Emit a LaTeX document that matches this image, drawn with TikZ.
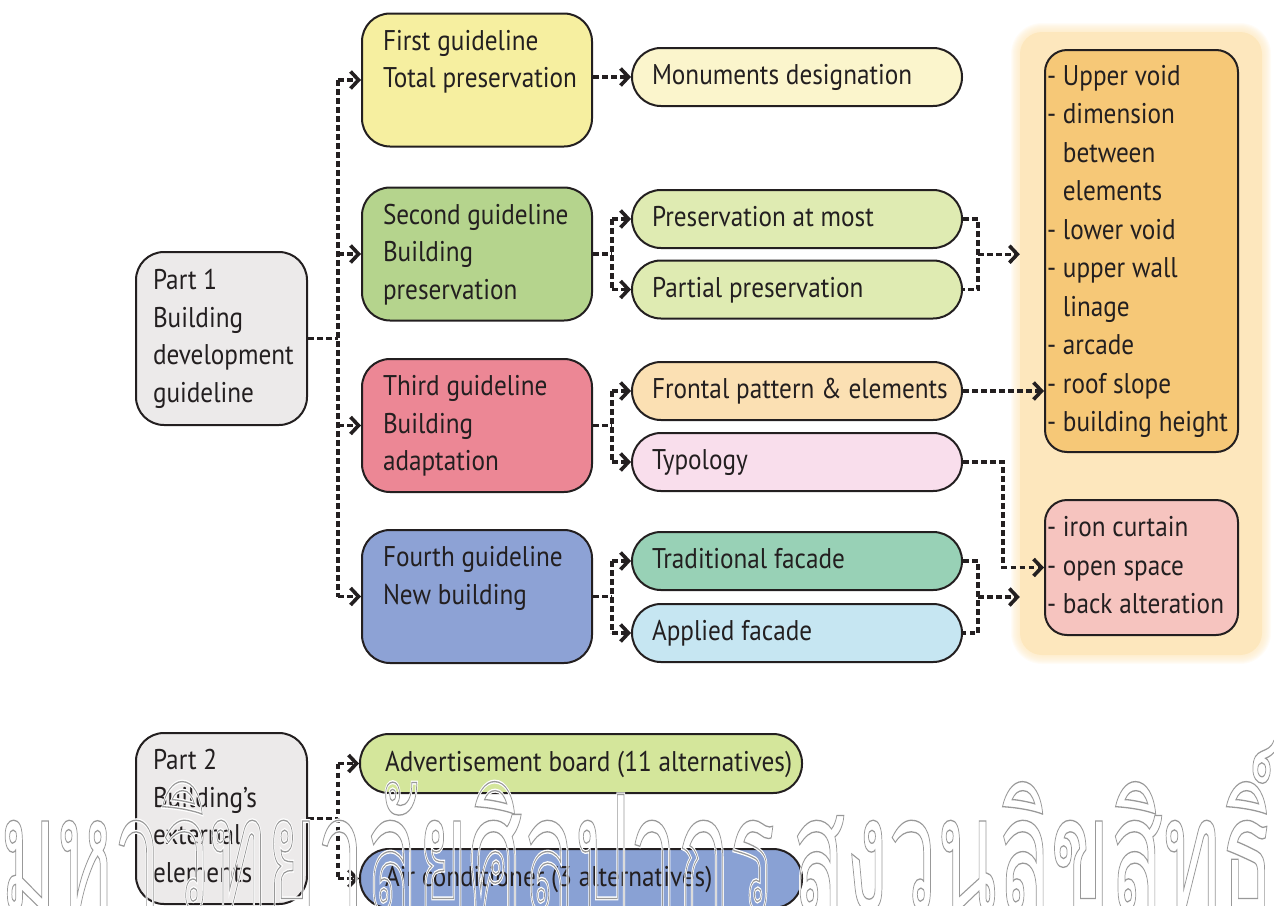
\documentclass[tikz,border=0pt]{standalone}
\usepackage{fontspec}
\usepackage{graphicx}
\setmainfont[FakeStretch=0.885]{PT Sans}
\newfontfamily\thaifont[Script=Thai]{Loma}
\usetikzlibrary{arrows.meta,calc}

\definecolor{ink}{HTML}{231F20}
\definecolor{partc}{HTML}{ECEAEA}
\definecolor{gonec}{HTML}{F6EFA0}
\definecolor{gtwoc}{HTML}{B5D48D}
\definecolor{gthreec}{HTML}{EC8795}
\definecolor{gfourc}{HTML}{8DA2D5}
\definecolor{monc}{HTML}{FBF5CC}
\definecolor{prec}{HTML}{DFEBB2}
\definecolor{fronc}{HTML}{FBE0B3}
\definecolor{typc}{HTML}{F9DEEC}
\definecolor{tradc}{HTML}{98D1B6}
\definecolor{applc}{HTML}{C6E6F2}
\definecolor{advc}{HTML}{D4E69B}
\definecolor{airc}{HTML}{89A1D4}
\definecolor{panelc}{HTML}{FDE7BD}
\definecolor{listc}{HTML}{F6C877}
\definecolor{pinkc}{HTML}{F6C4BF}

% text settings for boxes and lists (fixed word spaces, no hyphenation)
\newcommand\boxfont{\fontsize{28.5}{37.5}\selectfont\hyphenpenalty=10000 \exhyphenpenalty=10000 \spaceskip=0.24em\relax\xspaceskip=0.24em\relax}
\newcommand\listfont{\fontsize{28.5}{38.5}\selectfont\hyphenpenalty=10000 \exhyphenpenalty=10000 \spaceskip=0.24em\relax\xspaceskip=0.24em\relax}
\newcommand\wmfont{\thaifont\fontsize{160}{160}\selectfont}
\newcommand\gap{\nobreak\hspace{0.24em}}

% outlined watermark lettering: white halo stroke, then grey stroke
\newcommand\wmword[1]{%
  \rlap{\special{pdf:literal direct 1 Tr 4 w 1 1 1 RG}#1}%
  \special{pdf:literal direct 1 Tr 1.3 w 0.6 0.6 0.6 RG}#1%
  \special{pdf:literal direct 0 Tr}}

\begin{document}
\begin{tikzpicture}[x=1pt,y=-1pt,
  every node/.style={font=\boxfont, text=ink},
  gbox/.style={draw=ink, line width=2pt, rounded corners=28pt, align=left,
    inner xsep=21pt, inner ysep=0pt, text width=188pt, minimum height=133pt},
  partbox/.style={gbox, fill=partc, inner xsep=17pt, text width=137pt},
  pill/.style={draw=ink, line width=2pt, rounded corners=28.9pt, align=left,
    inner xsep=20pt, inner ysep=0pt, text width=290pt, minimum height=58pt},
  listbox/.style={draw=ink, line width=2pt, rounded corners=22pt, align=left,
    inner xsep=2pt, inner ysep=0pt, text width=189pt, font=\listfont},
  link/.style={draw=ink, line width=3.4pt, dash pattern=on 5.5pt off 3.5pt},
  tip/.style={link, -{Straight Barb[length=8pt,width=17pt,line width=3.6pt]}},
]
\useasboundingbox (0,0) rectangle (1274,905);

% soft-edged panel behind the element lists
\foreach \d in {1,...,9}
  \fill[panelc, opacity=0.12, rounded corners=22pt+\d pt]
    (1020-\d,32-\d) rectangle (1262+\d,655+\d);
\node[fill=panelc, rounded corners=22pt, minimum width=242pt, minimum height=623pt,
  inner sep=0pt] (panel) at (1141,343.5) {};

% part 1
\node[partbox, minimum height=173pt] (p1) at (221.5,338.5)
  {Part\gap 1\strut\\Building\strut\\development\strut\\guideline\strut};

% guidelines
\node[gbox, fill=gonec] (g1) at (477,80)
  {First\gap guideline\strut\\Total\gap preservation\strut\\\strut};
\node[gbox, fill=gtwoc] (g2) at (477,254)
  {Second\gap guideline\strut\\Building\strut\\preservation\strut};
\node[gbox, fill=gthreec] (g3) at (477,425.5)
  {Third\gap guideline\strut\\Building\strut\\adaptation\strut};
\node[gbox, fill=gfourc] (g4) at (477,596.5)
  {Fourth\gap guideline\strut\\New\gap building\strut\\\strut};

% measures
\node[pill, fill=monc] (m1) at (797,77) {Monuments\gap designation\strut};
\node[pill, fill=prec] (s1) at (797,219) {Preservation\gap at\gap most\strut};
\node[pill, fill=prec] (s2) at (797,289.5) {Partial\gap preservation\strut};
\node[pill, fill=fronc] (t1) at (797,391) {Frontal\gap pattern\gap\&\gap elements\strut};
\node[pill, fill=typc] (t2) at (797,462) {Typology\strut};
\node[pill, fill=tradc] (f1) at (797,561) {Traditional\gap facade\strut};
\node[pill, fill=applc] (f2) at (797,633) {Applied\gap facade\strut};

% element lists
\node[listbox, fill=listc, minimum height=402pt] (ob) at (1141.5,251)
  {-\gap Upper\gap void\strut\\-\gap dimension\strut\\\hphantom{-\gap}between\strut\\\hphantom{-\gap}elements\strut\\-\gap lower\gap void\strut\\-\gap upper\gap wall\strut\\\hphantom{-\gap}linage\strut\\-\gap arcade\strut\\-\gap roof\gap slope\strut\\-\gap building\gap height\strut};
\node[listbox, fill=pinkc, minimum height=135pt] (pb) at (1141.5,567.5)
  {-\gap iron\gap curtain\strut\\-\gap open\gap space\strut\\-\gap back\gap alteration\strut};

% part 2
\node[partbox, minimum height=171pt] (p2) at (221.5,818.5)
  {Part\gap 2\strut\\Building's\strut\\external\strut\\elements\strut};
\node[pill, fill=advc, inner xsep=25pt, text width=392pt, minimum height=59pt] (a1) at (581,763.5)
  {Advertisement\gap board\gap (11\gap alternatives)\strut};
\node[pill, fill=airc, inner xsep=25pt, text width=392pt, minimum height=59pt] (a2) at (581,878.5)
  {Air\gap conditioner\gap (3\gap alternatives)\strut};

% connectors: part 1 to guidelines
\draw[link] (p1.east) -- ([xshift=30pt]p1.east) coordinate (k1);
\draw[link] (k1 |- g1.west) -- (k1 |- g4.west);
\foreach \n in {g1,g2,g3,g4} \draw[tip] (k1 |- \n.west) -- (\n.west);

% guidelines to measures
\draw[tip] (g1.east |- m1.west) -- (m1.west);
\foreach \g/\a/\b in {g2/s1/s2, g3/t1/t2, g4/f1/f2} {
  \draw[link] (\g.east) -- ([xshift=19pt]\g.east) coordinate (kk);
  \draw[link] (kk |- \a.west) -- (kk |- \b.west);
  \draw[tip] (kk |- \a.west) -- (\a.west);
  \draw[tip] (kk |- \b.west) -- (\b.west);
}

% measures to element lists
\foreach \a/\b in {s1/s2, f1/f2} {
  \draw[link] (\a.east) -- ([xshift=15pt]\a.east) coordinate (jj)
    -- (jj |- \b.east) -- (\b.east);
  \coordinate (mm) at ($(jj)!0.5!(jj |- \b.east)$);
  \draw[tip] (mm) -- (mm -| panel.west);
}
\draw[tip] (t1.east) -- (t1.east -| ob.west);
\draw[tip] (t2.east) -- ++(40,0) |- (pb.west);

% part 2 connectors
\draw[link] (p2.east) -- ([xshift=30pt]p2.east) coordinate (k6);
\draw[link] (k6 |- a1.west) -- (k6 |- a2.west);
\draw[tip] (k6 |- a1.west) -- (a1.west);
\draw[tip] (k6 |- a2.west) -- (a2.west);

% watermark lettering
\node[anchor=base west, inner sep=0pt, font=\wmfont] (wm1) at (0,910)
  {\resizebox{775pt}{\height}{\wmword{มหาวิทยาลัยศิลปากร}}};
\node[anchor=base west, inner sep=0pt, font=\wmfont] (wm2) at (792,910)
  {\resizebox{482pt}{\height}{\wmword{สงวนลิขสิทธิ์}}};
\end{tikzpicture}
\end{document}
